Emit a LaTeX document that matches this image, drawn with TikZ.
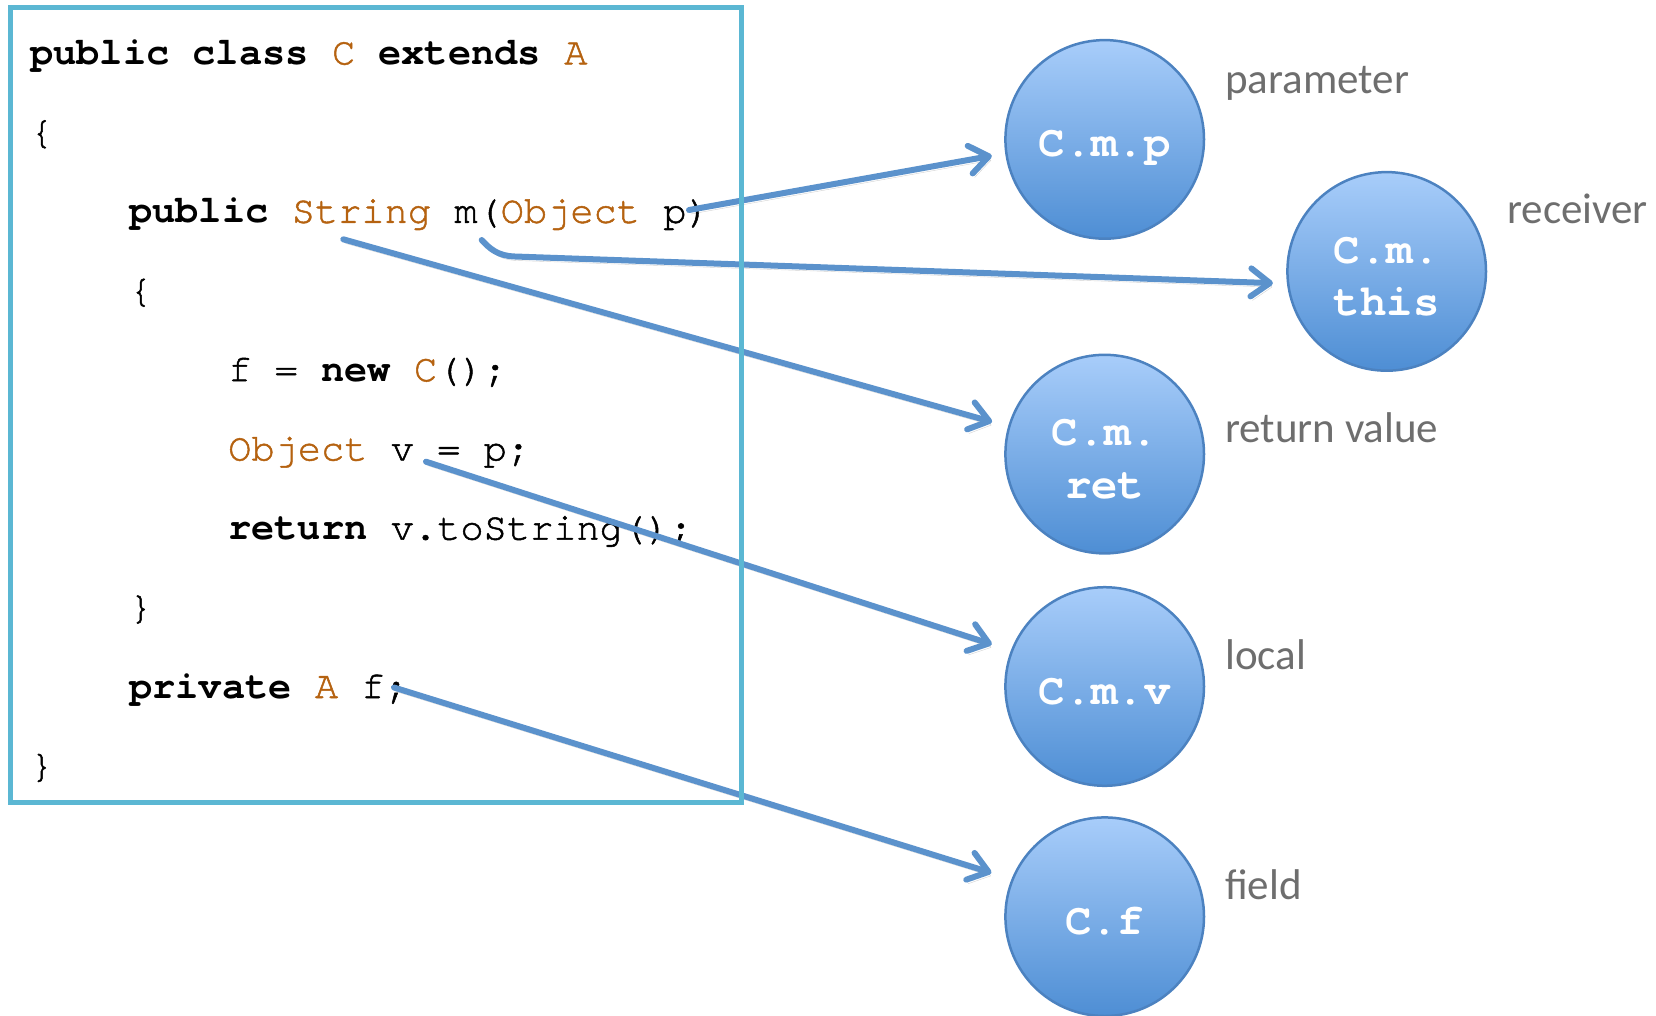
\documentclass[tikz,border=0pt]{standalone}
\usepackage{fontspec}
\usetikzlibrary{arrows.meta}
% regular listing text is slightly thickened; keywords use the real bold cut
\newfontfamily\codefont[RawFeature={embolden=1.3}]{TeX Gyre Cursor}
\newfontfamily\codeboldfont{TeX Gyre Cursor}
\newfontfamily\labelfont{Carlito}
\definecolor{framecol}{RGB}{91,183,211}
\definecolor{typecol}{RGB}{181,98,16}
\definecolor{linkblue}{RGB}{91,146,204}
\definecolor{balltop}{RGB}{168,205,250}
\definecolor{ballbot}{RGB}{78,142,212}
\definecolor{ballline}{RGB}{76,130,192}
\definecolor{labelgray}{RGB}{110,110,110}
\newcommand{\ty}[1]{\textcolor{typecol}{#1}}
\newcommand{\kw}[1]{{\codeboldfont\bfseries #1}}
\begin{document}
\begin{tikzpicture}[x=1pt,y=-1pt,
  code/.style={anchor=base west, inner sep=0pt, font=\codefont\fontsize{38.7}{46}\selectfont},
  ball/.style={circle, minimum size=198.6pt, inner sep=0pt, draw=ballline, line width=2.5pt,
    top color=balltop, bottom color=ballbot},
  balltext/.style={anchor=base, inner sep=0pt, text=white, font=\codeboldfont\bfseries\fontsize{44}{53}\selectfont},
  kind/.style={anchor=base west, inner sep=0pt, text=labelgray, font=\labelfont\fontsize{43}{50}\selectfont},
  link/.style={draw=linkblue, line width=6pt, line cap=round, line join=round,
    -{Straight Barb[length=19pt,width=28pt,line cap=round,line join=round]},
    preaction={draw=black, opacity=0.18, transform canvas={shift={(2,4)}}}}]
\useasboundingbox (0,0) rectangle (1656,1015);

% source listing
\node[code] (l1)  at (30,64.4)  {\kw{public class} \ty{C} \kw{extends} \ty{A}};
\node[code] (l2)  at (30,143.6) {\{};
\node[code] (l3)  at (129,222.8) {\kw{public} \ty{String} m(\ty{Object} p)};
\node[code] (l4)  at (129,302)  {\{};
\node[code] (l5)  at (228,381.2) {f = \kw{new} \ty{C}();};
\node[code] (l6)  at (228,460.4) {\ty{Object} v = p;};
\node[code] (l7)  at (228,539.6) {\kw{return} v.toString();};
\node[code] (l8)  at (129,618.8) {\}};
\node[code] (l9)  at (129,698)  {\kw{private} \ty{A} f;};
\node[code] (l10) at (30,777.2) {\}};

% abstract locations
\node[ball] (cmp)   at (1104.7,139.4) {};
\node[ball] (cthis) at (1386.7,271.4) {};
\node[ball] (cret)  at (1104.7,454.1) {};
\node[ball] (cmv)   at (1104.7,686.5) {};
\node[ball] (cf)    at (1104.7,916.7) {};

\node[balltext] (tp)  at ([yshift=-17.5pt]cmp.center) {C.m.p};
\node[balltext] (tt1) at ([yshift=8.4pt]cthis.center) {C.m.};
\node[balltext] (tt2) at ([yshift=-44.4pt]cthis.center) {this};
\node[balltext] (tr1) at ([yshift=8.4pt]cret.center) {C.m.};
\node[balltext] (tr2) at ([yshift=-44.4pt]cret.center) {ret};
\node[balltext] (tv)  at ([yshift=-17.5pt]cmv.center) {C.m.v};
\node[balltext] (tf)  at ([yshift=-17.5pt]cf.center) {C.f};

% kinds
\node[kind] (kp) at (1225,93)    {parameter};
\node[kind] (kr) at (1507,223.4) {receiver};
\node[kind] (kt) at (1225,442.5) {return value};
\node[kind] (kl) at (1225,669)   {local};
\node[kind] (kf) at (1225,899)   {field};

% program points
\coordinate (srcP)    at (689,210);
\coordinate (srcThis) at (481.7,240);
\coordinate (bendThis) at (515,256.5);
\coordinate (srcRet)  at (343.3,239.3);
\coordinate (srcV)    at (426,461.7);
\coordinate (srcF)    at (394,687.5);

\draw[link, shorten >=13.5pt] (srcP) -- (cmp.188);
\draw[link, shorten >=14pt] (srcThis) .. controls (490,249) and (498,256) .. (bendThis) -- (cthis.187);
\draw[link, shorten >=16.6pt] (srcRet) -- (cret.164);
\draw[link, shorten >=20pt] (srcV) -- (cmv.159);
\draw[link, shorten >=21pt] (srcF) -- (cf.158);

% class frame
\draw[framecol, line width=4.5pt] (10.6,7.4) rectangle (741.4,802.6);
\end{tikzpicture}
\end{document}
